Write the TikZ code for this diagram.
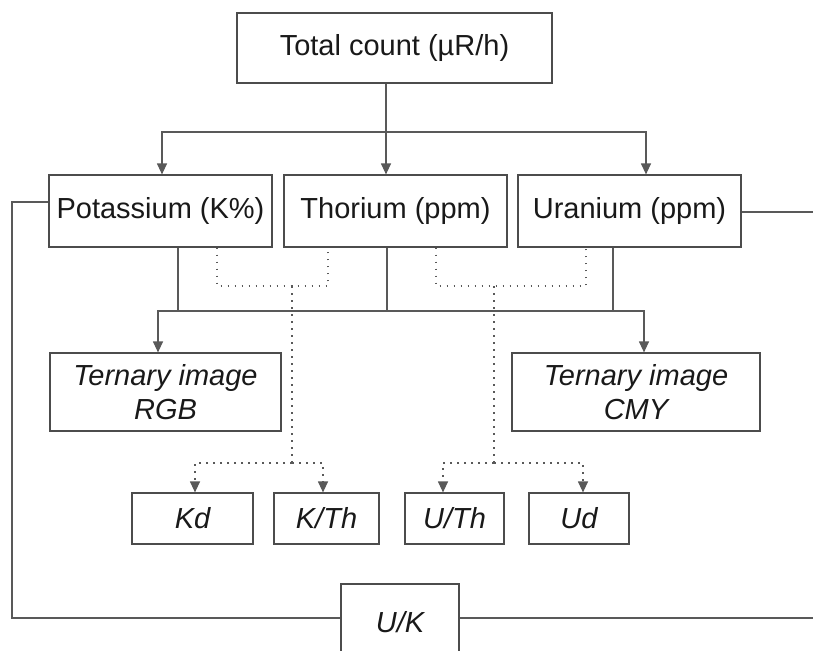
\documentclass[tikz,border=0pt]{standalone}
\usepackage{fontspec}
\setmainfont{Liberation Sans}
\usetikzlibrary{arrows.meta}

\tikzset{
  box/.style={draw=black!70, line width=1.2pt, inner sep=0pt, text=black!90,
    font=\fontsize{29}{34}\selectfont, align=center},
  ibox/.style={box, font=\fontsize{29}{34}\selectfont\itshape},
  wire/.style={draw=black!65, line width=1.2pt},
  dotline/.style={wire, dash pattern=on 1.7pt off 5.3pt},
  arr/.style={-{Triangle[length=11pt,width=10pt]}}
}

\begin{document}
\begin{tikzpicture}[x=1pt, y=-1pt]
      \clip (0, 0) rectangle (813, 650);
      \fill[white] (0, 0) rectangle (813, 650);

      \node[box, minimum width=315, minimum height=70] (total) at (394.5, 48) {Total count (µR/h)};

      \node[box, minimum width=223, minimum height=72] (potassium) at (160.5, 211) {Potassium (K\%)};
      \node[box, minimum width=223, minimum height=72] (thorium) at (395.5, 211) {Thorium (ppm)};
      \node[box, minimum width=223, minimum height=72] (uranium) at (629.5, 211) {Uranium (ppm)};

      \node[ibox, minimum width=231, minimum height=78] (rgb) at (165.5, 392) {Ternary image\\RGB};
      \node[ibox, minimum width=248, minimum height=78] (cmy) at (636, 392) {Ternary image\\CMY};

      \node[ibox, minimum width=121, minimum height=51] (kd) at (192.5, 518.5) {Kd};
      \node[ibox, minimum width=105, minimum height=51] (kth) at (326.5, 518.5) {K/Th};
      \node[ibox, minimum width=99, minimum height=51] (uth) at (454.5, 518.5) {U/Th};
      \node[ibox, minimum width=100, minimum height=51] (ud) at (579, 518.5) {Ud};

      \node[ibox, minimum width=118, minimum height=92] (uk) at (400, 630) {\raisebox{16pt}{U/K}};

      \coordinate (top) at (386, 132);
      \coordinate (mid) at (387, 311);
      \coordinate (kjoin) at (292, 286);
      \coordinate (ksplit) at (292, 463);
      \coordinate (ujoin) at (494, 286);
      \coordinate (usplit) at (494, 463);
      \coordinate (loop) at (12, 618);
      \coordinate (kedge) at (813, 618);
      \coordinate (uedge) at (813, 212);

      \draw[wire] (top |- total.south) -- (top);
      \draw[wire, arr] (top) -| ([xshift=1.5pt]potassium.north);
      \draw[wire, arr] (top) -- (top |- thorium.north);
      \draw[wire, arr] (top) -| ([xshift=16.5pt]uranium.north);

      \draw[wire] ([xshift=17.5pt]potassium.south) -- ++(0, 64);
      \draw[wire] (mid |- thorium.south) -- (mid);
      \draw[wire] ([xshift=-16.5pt]uranium.south) -- ++(0, 64);
      \draw[wire, arr] (mid) -| ([xshift=-7.5pt]rgb.north);
      \draw[wire, arr] (mid) -| ([xshift=8pt]cmy.north);

      \draw[dotline] ([xshift=56.5pt]potassium.south) |- (kjoin) -| ([xshift=-67.5pt]thorium.south);
      \draw[dotline] (kjoin) -- (ksplit);
      \draw[dotline, arr] (ksplit) -| ([xshift=2.5pt]kd.north);
      \draw[dotline, arr] (ksplit) -| ([xshift=-3.5pt]kth.north);

      \draw[dotline] ([xshift=40.5pt]thorium.south) |- (ujoin) -| ([xshift=-43.5pt]uranium.south);
      \draw[dotline] (ujoin) -- (usplit);
      \draw[dotline, arr] (usplit) -| ([xshift=-11.5pt]uth.north);
      \draw[dotline, arr] (usplit) -| ([xshift=4pt]ud.north);

      \draw[wire] ([yshift=9pt]potassium.west) -| (loop) -- ([yshift=12pt]uk.west);
      \draw[wire] ([yshift=12pt]uk.east) -- (kedge);
      \draw[wire] ([yshift=-1pt]uranium.east) -- (uedge);
\end{tikzpicture}
\end{document}
